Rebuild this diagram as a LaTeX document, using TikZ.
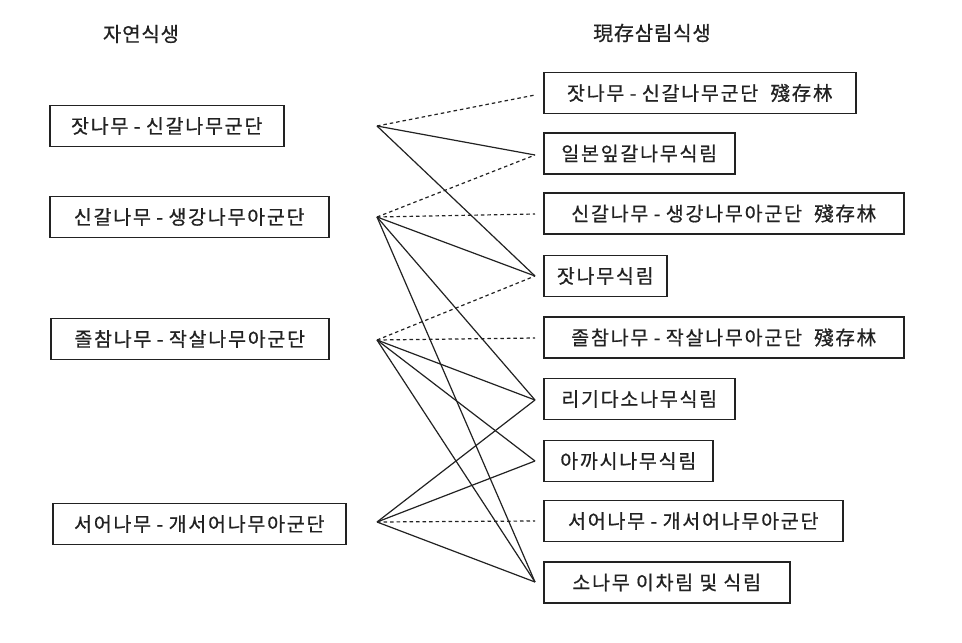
\documentclass[tikz,border=0pt]{standalone}
\usepackage{fontspec}
\setmainfont{Noto Sans CJK KR}
\definecolor{ink}{HTML}{222222}
\newcommand{\ddsh}{\makebox[0.9em]{-}}
\begin{document}
\begin{tikzpicture}[x=1pt,y=-1pt,
  box/.style={draw=ink, line width=1.5pt, minimum height=41pt, inner sep=0pt, anchor=west, text=ink,
    font=\fontsize{19.5}{19.5}\selectfont\addfontfeature{LetterSpace=9,FakeBold=0.6}},
  head/.style={text=ink, font=\fontsize{20}{20}\selectfont\addfontfeature{LetterSpace=4,FakeBold=0.6}},
  solidlink/.style={draw=ink, line width=1.2pt},
  dotlink/.style={draw=ink, line width=1.2pt, dash pattern=on 3.5pt off 3pt}]
\useasboundingbox (0,0) rectangle (962,643);
\fill[white] (0,0) rectangle (962,643);
% headers
\node[head] (hL) at (141,34) {자연식생};
\node[head] (hR) at (652,33) {現存삼림식생};
% left boxes
\node[box, minimum width=234pt] (L1) at (49,126) {잣나무\ddsh 신갈나무군단};
\node[box, minimum width=279pt] (L2) at (49,217) {신갈나무\ddsh 생강나무아군단};
\node[box, minimum width=278pt] (L3) at (50,339) {졸참나무\ddsh 작살나무아군단};
\node[box, minimum width=293pt] (L4) at (52,524) {서어나무\ddsh 개서어나무아군단};
% right boxes
\node[box, minimum width=312pt] (R1) at (543,93) {잣나무\ddsh 신갈나무군단\ \ 殘存林};
\node[box, minimum width=191pt] (R2) at (543,153.5) {일본잎갈나무식림};
\node[box, minimum width=360pt] (R3) at (543,213.5) {신갈나무\ddsh 생강나무아군단\ \ 殘存林};
\node[box, minimum width=123pt] (R4) at (543,276) {잣나무식림};
\node[box, minimum width=360pt] (R5) at (543,337.5) {졸참나무\ddsh 작살나무아군단\ \ 殘存林};
\node[box, minimum width=191pt] (R6) at (543,399) {리기다소나무식림};
\node[box, minimum width=169pt] (R7) at (543,461) {아까시나무식림};
\node[box, minimum width=299pt] (R8) at (543,521) {서어나무\ddsh 개서어나무아군단};
\node[box, minimum width=246pt] (R9) at (543,582.5) {소나무 이차림 및 식림};
% hubs and targets
\coordinate (h1) at (377,126);
\coordinate (h2) at (377,217);
\coordinate (h3) at (377,340);
\coordinate (h4) at (377,522);
\coordinate (t1) at (535,95);
\coordinate (t2) at (535,155);
\coordinate (t3) at (535,214);
\coordinate (t4) at (535,276);
\coordinate (t5) at (535,338);
\coordinate (t6) at (535,400);
\coordinate (t7) at (535,461);
\coordinate (t8) at (535,521);
\coordinate (t9) at (535,582);
% links from L1
\draw[dotlink] (h1) -- (t1);
\draw[solidlink] (h1) -- (t2);
\draw[solidlink] (h1) -- (t4);
% links from L2
\draw[dotlink] (h2) -- (t2);
\draw[dotlink] (h2) -- (t3);
\draw[solidlink] (h2) -- (t4);
\draw[solidlink] (h2) -- (t6);
\draw[solidlink] (h2) -- (t9);
% links from L3
\draw[dotlink] (h3) -- (t4);
\draw[dotlink] (h3) -- (t5);
\draw[solidlink] (h3) -- (t6);
\draw[solidlink] (h3) -- (t7);
\draw[solidlink] (h3) -- (t9);
% links from L4
\draw[solidlink] (h4) -- (t6);
\draw[solidlink] (h4) -- (t7);
\draw[dotlink] (h4) -- (t8);
\draw[solidlink] (h4) -- (t9);
\end{tikzpicture}
\end{document}
